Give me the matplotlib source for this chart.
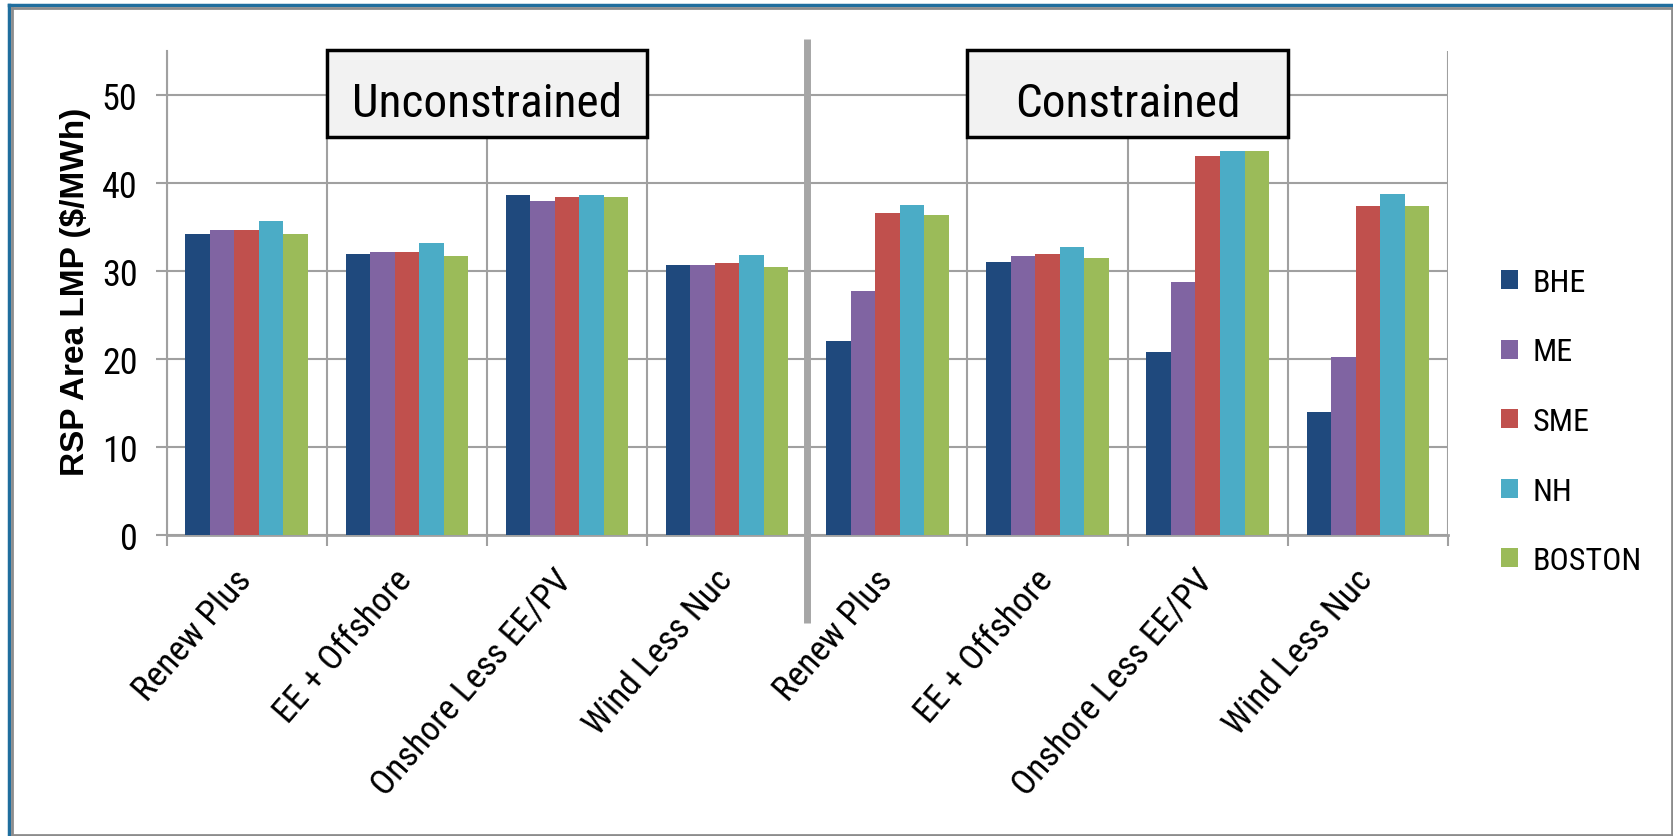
import numpy as np
import matplotlib.pyplot as plt
from matplotlib import font_manager
from matplotlib.patches import Rectangle
from matplotlib.lines import Line2D

# narrowest available sans for the labels
names = {f.name for f in font_manager.fontManager.ttflist}
body = next((n for n in ['Liberation Sans Narrow', 'Roboto Condensed', 'Lato'] if n in names),
            'DejaVu Sans')
plt.rcParams['font.family'] = [body, 'DejaVu Sans']

scenarios = ["Renew Plus", "EE + Offshore", "Onshore Less EE/PV", "Wind Less Nuc"]
categories = scenarios + scenarios
areas = ["BHE", "ME", "SME", "NH", "BOSTON"]
colors = ["#1F497D", "#8064A2", "#C0504D", "#4BACC6", "#9BBB59"]

# first four: unconstrained, last four: constrained
bhe = [34.2, 31.85, 38.55, 30.6, 22.0, 31.0, 20.8, 13.9]
me = [34.6, 32.1, 37.9, 30.6, 27.7, 31.65, 28.7, 20.2]
sme = [34.6, 32.1, 38.35, 30.85, 36.5, 31.85, 43.0, 37.3]
nh = [35.6, 33.1, 38.55, 31.8, 37.5, 32.7, 43.55, 38.75]
boston = [34.2, 31.65, 38.35, 30.4, 36.3, 31.45, 43.55, 37.3]
series = [bhe, me, sme, nh, boston]

grid_c = '#a0a0a0'

fig = plt.figure(figsize=(16.74, 8.37), dpi=100)
ax = fig.add_axes([0.0995, 0.36, 0.7655, 0.5783])

x = np.arange(len(categories)) + 0.5
w = 0.153
for j, (vals, name, c) in enumerate(zip(series, areas, colors)):
    ax.bar(x + (j - 2) * w, vals, w, color=c, label=name, zorder=3)

ax.set_xlim(0, 8)
ax.set_ylim(0, 55)
ax.set_yticks(range(0, 51, 10))
ax.set_xticks(range(9))
ax.set_xticklabels([])
ax.grid(True, color=grid_c, lw=1.5)
ax.set_axisbelow(True)
for s in ['top', 'right']:
    ax.spines[s].set_visible(False)
ax.spines['left'].set_color(grid_c)
ax.spines['left'].set_linewidth(1.5)
ax.spines['bottom'].set_color(grid_c)
ax.spines['bottom'].set_linewidth(2)
ax.tick_params(axis='both', color=grid_c, length=8, width=1.5)
ax.tick_params(axis='y', labelsize=26, pad=13)

# slanted scenario names under each group
for xi, lab in zip(x, categories):
    ax.text(xi - 0.005, -4.45, lab, rotation=49, rotation_mode='anchor',
            ha='right', va='center', fontsize=25.5, clip_on=False)

# heavy divider between the two halves
ax.plot([4, 4], [-10, 56.3], color='#a6a6a6', lw=5, clip_on=False,
        zorder=4, solid_capstyle='butt')

for x0, label in [(1, 'Unconstrained'), (5, 'Constrained')]:
    ax.add_patch(Rectangle((x0, 45.2), 2, 9.9, facecolor='#f2f2f2',
                           edgecolor='black', lw=2.5, clip_on=False, zorder=5))
    ax.text(x0 + 1, 49.0, label, ha='center', va='center', fontsize=34, zorder=6)

ax.legend(loc='center left', bbox_to_anchor=(0.8967, 0.4952),
          bbox_transform=fig.transFigure, frameon=False, fontsize=23,
          handlelength=0.53, handleheight=0.53, handletextpad=0.45,
          labelspacing=1.27, borderpad=0, borderaxespad=0)

fig.text(0.0454, 0.651, 'RSP Area LMP ($/MWh)', rotation=90, ha='center',
         va='center', fontsize=24, fontweight='bold',
         family=['Liberation Sans', 'DejaVu Sans'])

# picture frame: blue top/left edge with a gray shadow line
W, H = 1674, 837
def fx(px): return px / W
def fy(px): return 1 - px / H
fig.add_artist(Line2D([fx(9), fx(1674)], [fy(5.5), fy(5.5)], color='#1f6e9e', lw=2.5))
fig.add_artist(Line2D([fx(9), fx(9)], [fy(5.5), fy(837)], color='#1f6e9e', lw=2.5))
fig.add_artist(Line2D([fx(12), fx(1674)], [fy(8.5), fy(8.5)], color='#8c8c8c', lw=2))
fig.add_artist(Line2D([fx(12), fx(12)], [fy(8.5), fy(837)], color='#8c8c8c', lw=2))
fig.add_artist(Line2D([fx(1672.5), fx(1672.5)], [fy(8.5), fy(837)], color='#8c8c8c', lw=2))
fig.add_artist(Line2D([fx(12), fx(1674)], [fy(835.5), fy(835.5)], color='#8c8c8c', lw=2))

fig.savefig('out.png', dpi=100)
